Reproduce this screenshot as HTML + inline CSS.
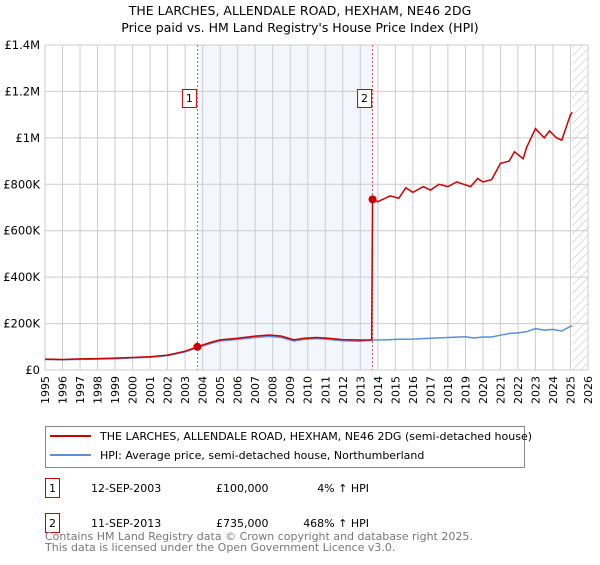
<!DOCTYPE html>
<html><head><meta charset="utf-8"><style>
body{margin:0;background:#fff;font-family:"Liberation Sans","DejaVu Sans",sans-serif;}
svg text{font-family:"DejaVu Sans","Liberation Sans",sans-serif;}
</style></head><body>
<svg id="chart" width="600" height="560" viewBox="0 0 600 560">
<text x="300" y="15" text-anchor="middle" font-size="12.5">THE LARCHES, ALLENDALE ROAD, HEXHAM, NE46 2DG</text>
<text x="300" y="32" text-anchor="middle" font-size="12.5">Price paid vs. HM Land Registry's House Price Index (HPI)</text>
<g id="plot"></g>
<g>
<rect x="45.5" y="426.5" width="479" height="41" fill="#fff" stroke="#888"/>
<line x1="50" y1="436" x2="91" y2="436" stroke="#cc0000" stroke-width="2"/>
<text x="100" y="440" font-size="11">THE LARCHES, ALLENDALE ROAD, HEXHAM, NE46 2DG (semi-detached house)</text>
<line x1="50" y1="455" x2="91" y2="455" stroke="#5b8fd6" stroke-width="2"/>
<text x="100" y="459" font-size="11">HPI: Average price, semi-detached house, Northumberland</text>
</g>
<g font-size="11">
<rect x="45.5" y="478.5" width="14" height="19" fill="#fff" stroke="#cc0000"/>
<text x="52.5" y="492" text-anchor="middle">1</text>
<text x="91" y="492">12-SEP-2003</text><text x="216" y="492">£100,000</text><text x="369" y="492" text-anchor="end">4% ↑ HPI</text>
<rect x="45.5" y="513.5" width="14" height="19" fill="#fff" stroke="#cc0000"/>
<text x="52.5" y="527" text-anchor="middle">2</text>
<text x="91" y="527">11-SEP-2013</text><text x="216" y="527">£735,000</text><text x="369" y="527" text-anchor="end">468% ↑ HPI</text>
</g>
<text x="45" y="540" font-size="11" fill="#777">Contains HM Land Registry data © Crown copyright and database right 2025.</text>
<text x="45" y="551" font-size="11" fill="#777">This data is licensed under the Open Government Licence v3.0.</text>
</svg>
<script>
const yTicks=[0,200000,400000,600000,800000,1000000,1200000,1400000];
const yTickLabels=["£0","£200K","£400K","£600K","£800K","£1M","£1.2M","£1.4M"];
const xYears=[1995,1996,1997,1998,1999,2000,2001,2002,2003,2004,2005,2006,2007,2008,2009,2010,2011,2012,2013,2014,2015,2016,2017,2018,2019,2020,2021,2022,2023,2024,2025,2026];
const hpiDates=[1995,1996,1997,1998,1999,2000,2001,2002,2003,2003.7,2004.5,2005,2006,2007,2007.8,2008.5,2009.2,2009.8,2010.5,2011,2012,2013,2013.7,2014.5,2015,2016,2017,2018,2019,2019.5,2020,2020.5,2021,2021.5,2022,2022.5,2023,2023.5,2024,2024.5,2025,2025.1];
const hpiValues=[45000,44000,46000,47000,49000,52000,55000,62000,78000,96000,115000,125000,132000,140000,145000,140000,125000,132000,135000,133000,126000,124000,129000,130000,132000,133000,137000,140000,143000,138000,142000,142000,150000,157000,160000,165000,178000,172000,175000,168000,188000,190000];
const redDates=[1995,1996,1997,1998,1999,2000,2001,2002,2003,2003.7,2004.5,2005,2006,2007,2007.8,2008.5,2009.2,2009.8,2010.5,2011,2012,2013,2013.65,2013.7,2014,2014.7,2015.2,2015.6,2016,2016.6,2017,2017.5,2018,2018.5,2019.3,2019.7,2020,2020.5,2021,2021.5,2021.8,2022.3,2022.5,2023,2023.5,2023.8,2024.2,2024.5,2025,2025.1];
const redValues=[47000,45000,48000,49000,51000,54000,57000,64000,81000,100000,120000,130000,137000,146000,151000,146000,130000,137000,140000,138000,131000,129000,129000,735000,725000,750000,740000,785000,765000,790000,775000,800000,790000,810000,790000,825000,810000,820000,890000,900000,940000,910000,960000,1040000,1000000,1030000,1000000,990000,1100000,1110000];
const sales=[{n:"1",d:2003.7,v:100000},{n:"2",d:2013.7,v:735000}];
const X=y=>45+(y-1995)*(543/31);
const Y=v=>370-v*(325/1400000);
const ns="http://www.w3.org/2000/svg";
const g=document.getElementById('plot');
function mk(t,a,p){const e=document.createElementNS(ns,t);for(const k in a)e.setAttribute(k,a[k]);(p||g).appendChild(e);return e;}
const shade=mk('rect',{x:X(2003.7),y:45,width:X(2013.7)-X(2003.7),height:325,fill:'#eef3fc',opacity:0.7});


const defs=mk('defs',{});
const pat=mk('pattern',{id:'hatch',width:6,height:6,patternUnits:'userSpaceOnUse',patternTransform:'rotate(45)'},defs);
mk('line',{x1:0,y1:0,x2:0,y2:6,stroke:'#bbb','stroke-width':1},pat);
const hr=mk('rect',{x:X(2025.1),y:45,width:588-X(2025.1),height:325,fill:'url(#hatch)'});


xYears.forEach((yr,i)=>{
 const l=mk('line',{x1:X(yr),y1:45,x2:X(yr),y2:370,stroke:'#ccc','stroke-width':1});
 
 
 const t=mk('text',{x:X(yr)+4,y:376,'font-size':11,transform:`rotate(-90 ${X(yr)+4} 376)`,'text-anchor':'end'});
 t.textContent=yr;
 
 
});
yTicks.forEach((v,i)=>{
 const l=mk('line',{x1:45,y1:Y(v),x2:588,y2:Y(v),stroke:'#ccc','stroke-width':1});
 
 
 const t=mk('text',{x:40,y:Y(v)+4,'font-size':11.5,'text-anchor':'end'});
 t.textContent=yTickLabels[i];
 
 
});
sales.forEach(s=>{
 const l=mk('line',{x1:X(s.d),y1:45,x2:X(s.d),y2:370,stroke:'#e05555','stroke-width':1,'stroke-dasharray':'2,2'});
 
 
});
const hp=mk('polyline',{points:hpiDates.map((d,i)=>X(d)+','+Y(hpiValues[i])).join(' '),fill:'none',stroke:'#5b8fd6','stroke-width':1.5});


const rp=mk('polyline',{points:redDates.map((d,i)=>X(d)+','+Y(redValues[i])).join(' '),fill:'none',stroke:'#cc0000','stroke-width':1.5});


sales.forEach(s=>{
 const c=mk('circle',{cx:X(s.d),cy:Y(s.v),r:4,fill:'#cc0000'});
 
 
 const b=mk('rect',{x:X(s.d)-15,y:89.5,width:14,height:18,fill:'#fff',stroke:'#cc0000'});
 
 
 const t=mk('text',{x:X(s.d)-8,y:102,'font-size':11,'text-anchor':'middle'});
 t.textContent=s.n;
 
 
});
</script>
</body></html>
